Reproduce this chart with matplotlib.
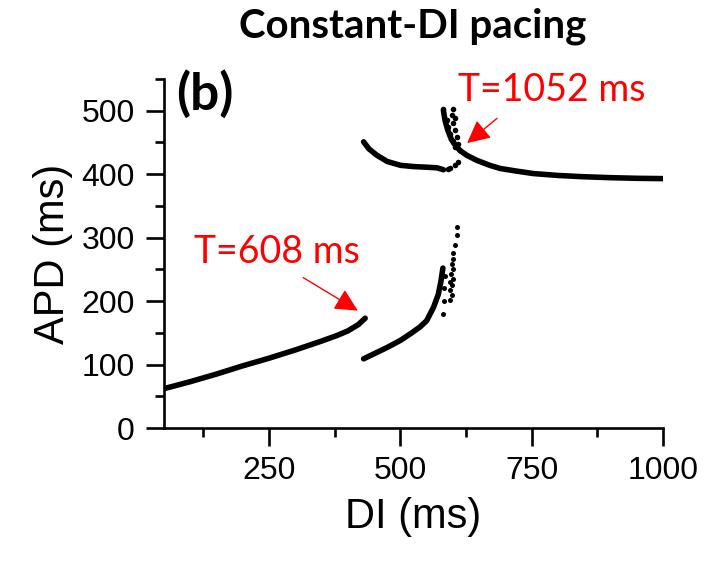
import matplotlib
matplotlib.use("Agg")
import matplotlib.pyplot as plt
from matplotlib.ticker import MultipleLocator

# --- restitution data: APD vs DI under constant-DI pacing ---
# lower branch ending at T = 608 ms
di_low1 = [50, 100, 150, 200, 250, 300, 350, 380, 400, 420, 433]
apd_low1 = [62, 73, 85, 98, 110, 123, 137, 146, 153, 163, 173]

# second lower branch rising steeply toward the bifurcation
di_low2 = [430, 450, 475, 500, 520, 537, 550, 563, 572, 577, 581]
apd_low2 = [109, 117, 127, 138, 149, 159, 169, 190, 210, 230, 252]

# scattered beats near the lower bifurcation
di_low_sc = [582, 583, 584, 585, 595, 598, 595, 599, 595, 601, 597, 601,
             598, 601, 600, 604, 608, 608]
apd_low_sc = [180, 200, 220, 240, 201, 209, 217, 225, 230, 235, 243, 251,
              259, 266, 275, 288, 304, 317]

# upper-left branch
di_up1 = [430, 440, 455, 475, 500, 525, 550, 570, 582]
apd_up1 = [451, 440, 430, 420, 414, 412, 411, 410, 407]

# upper cluster around T = 1052 ms
di_up_cl = [582, 585, 590, 597, 605, 614]
apd_up_cl = [500, 485, 470, 455, 445, 437]
di_up_sc = [582, 601, 598, 604, 588, 601, 591, 604, 594, 607, 601, 610,
            604, 595, 604, 610, 590]
apd_up_sc = [503, 503, 493, 488, 485, 480, 474, 469, 464, 459, 453, 448,
             443, 409, 414, 419, 408]

# upper-right branch decaying toward steady state
di_up2 = [614, 626, 645, 670, 690, 720, 753, 800, 848, 900, 950, 1000]
apd_up2 = [437, 430, 422, 414, 409, 405, 401, 398, 396, 394.5, 393.5, 393]

x_ticks = [250, 500, 750, 1000]
y_ticks = [0, 100, 200, 300, 400, 500]

fig = plt.figure(figsize=(7.08, 5.62), dpi=100)
ax = fig.add_axes([164 / 708, 1 - 428 / 562, (663 - 164) / 708, (428 - 79) / 562])

line_kw = dict(color="black", lw=4.0, solid_capstyle="round", solid_joinstyle="round")
ax.plot(di_low1, apd_low1, **line_kw)
ax.plot(di_low2, apd_low2, **line_kw)
ax.plot(di_up1, apd_up1, **line_kw)
ax.plot(di_up_cl, apd_up_cl, **line_kw)
ax.plot(di_up2, apd_up2, **line_kw)
ax.plot(di_low_sc, apd_low_sc, "o", color="black", ms=3.6, mew=0)
ax.plot(di_up_sc, apd_up_sc, "o", color="black", ms=4.0, mew=0)

ax.set_xlim(50, 1000)
ax.set_ylim(0, 550)
ax.set_xticks(x_ticks)
ax.set_yticks(y_ticks)
ax.xaxis.set_minor_locator(MultipleLocator(125))
ax.yaxis.set_minor_locator(MultipleLocator(50))

for side in ("top", "right"):
    ax.spines[side].set_visible(False)
for side in ("left", "bottom"):
    ax.spines[side].set_linewidth(1.9)

tick_font = "Liberation Sans"
ax.tick_params(axis="both", which="major", direction="out", length=13, width=1.9,
               labelsize=23)
ax.tick_params(axis="both", which="minor", direction="out", length=6.5, width=1.9)
ax.tick_params(axis="x", which="major", pad=7)
ax.tick_params(axis="y", which="major", pad=8)
for lab in ax.get_xticklabels() + ax.get_yticklabels():
    lab.set_fontfamily(tick_font)

ax.set_xlabel("DI (ms)", fontsize=30, fontfamily=tick_font, labelpad=8)
ax.set_ylabel("APD (ms)", fontsize=30, fontfamily=tick_font, labelpad=6)

fig.text(413 / 708, 1 - 26 / 562, "Constant-DI pacing", ha="center", va="center",
         fontsize=29, fontweight="bold", fontfamily="Lato")
ax.text(0.025, 1.025, "(b)", transform=ax.transAxes, ha="left", va="top",
        fontsize=37, fontweight="bold", fontfamily="Lato")

arrow_kw = dict(arrowstyle="-|>,head_length=0.7,head_width=0.35", color="red",
                lw=1.0, shrinkA=0, shrinkB=0, mutation_scale=20)
ax.annotate("", xy=(627, 449), xytext=(684, 488), arrowprops=arrow_kw)
ax.annotate("", xy=(419, 185), xytext=(315, 237), arrowprops=arrow_kw)
ax.text(789, 532, "T=1052 ms", color="red", ha="center", va="center",
        fontsize=27, fontfamily="Lato")
ax.text(265, 278, "T=608 ms", color="red", ha="center", va="center",
        fontsize=27, fontfamily="Lato")

fig.savefig("out.png", dpi=100)
